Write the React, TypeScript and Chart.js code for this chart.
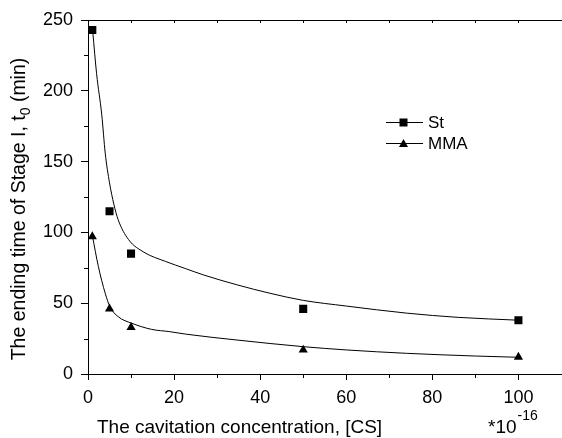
import React, { useEffect, useRef } from "react";
import { Chart, registerables } from "chart.js";

Chart.register(...registerables);

// Measured points
const stX = [1, 5, 10, 50, 100];
const stY = [243, 115, 85, 46, 38];
const mmaX = [1, 5, 10, 50, 100];
const mmaY = [97, 46, 33, 17, 12];

// Fitted curves
const stFitX = [1.1, 2, 3.2, 4, 5, 6, 7, 9.4, 13, 18, 22.6, 26.8, 34.6, 42.3, 50, 60, 74, 86, 100];
const stFitY = [242, 212, 183, 156, 135, 120, 109, 95, 86, 79.5, 74.5, 70, 63, 57, 52, 48, 43, 40, 38];
const mmaFitX = [1, 2.4, 4, 5.1, 7, 10.2, 14.8, 19, 22.6, 34.6, 50, 60, 74, 90, 100];
const mmaFitY = [98, 76, 57, 47.5, 40.5, 35.8, 31.5, 29.9, 28.2, 24, 19.3, 17, 14.6, 12.7, 11.8];

const seriesNames = ["St", "MMA"];
const xTitle = "The cavitation concentration, [CS]";
const yTitleMain = "The ending time of Stage I, t";
const yTitleSub = "0";
const yTitleEnd = " (min)";
const xMultiplier = "*10";
const xMultiplierExp = "-16";

const FONT = 'Arial, "Liberation Sans", sans-serif';

const pts = (xs: number[], ys: number[]) => xs.map((x, i) => ({ x, y: ys[i] }));

const decorPlugin = {
  id: "decor",
  afterDraw(chart: any) {
    const { ctx, chartArea } = chart;
    const xs = chart.scales.x;
    const ys = chart.scales.y;
    ctx.save();
    ctx.strokeStyle = "#000";
    ctx.fillStyle = "#000";
    ctx.lineWidth = 1;
    // top border
    ctx.beginPath();
    ctx.moveTo(chartArea.left, chartArea.top + 0.5);
    ctx.lineTo(562, chartArea.top + 0.5);
    ctx.moveTo(chartArea.right, chartArea.bottom + 0.5);
    ctx.lineTo(562, chartArea.bottom + 0.5);
    ctx.stroke();
    // minor ticks
    ctx.beginPath();
    for (let v = 25; v < 250; v += 50) {
      const p = Math.round(ys.getPixelForValue(v)) + 0.5;
      ctx.moveTo(chartArea.left - 4, p);
      ctx.lineTo(chartArea.left, p);
    }
    for (let v = 10; v <= 100; v += 20) {
      const p = Math.round(xs.getPixelForValue(v)) + 0.5;
      ctx.moveTo(p, chartArea.bottom);
      ctx.lineTo(p, chartArea.bottom + 4);
    }
    for (let v = 10; v <= 100; v += 10) {
      const p = Math.round(xs.getPixelForValue(v)) + 0.5;
      ctx.moveTo(p, chartArea.top);
      ctx.lineTo(p, chartArea.top + 3);
    }
    ctx.stroke();

    // x title
    ctx.font = `19px ${FONT}`;
    ctx.textAlign = "left";
    ctx.textBaseline = "alphabetic";
    ctx.fillText(xTitle, 97, 433);
    ctx.fillText(xMultiplier, 488, 433);
    const mw = ctx.measureText(xMultiplier).width;
    ctx.font = `14px ${FONT}`;
    ctx.fillText(xMultiplierExp, 488 + mw + 1, 420);

    // y title
    ctx.save();
    ctx.translate(25, (chartArea.top + chartArea.bottom) / 2 + 12);
    ctx.rotate(-Math.PI / 2);
    ctx.textBaseline = "alphabetic";
    ctx.font = `19.5px ${FONT}`;
    const w1 = ctx.measureText(yTitleMain).width;
    const w3 = ctx.measureText(yTitleEnd).width;
    ctx.font = `14px ${FONT}`;
    const w2 = ctx.measureText(yTitleSub).width;
    const total = w1 + w2 + w3;
    let x0 = -total / 2;
    ctx.textAlign = "left";
    ctx.font = `19.5px ${FONT}`;
    ctx.fillText(yTitleMain, x0, 0);
    x0 += w1;
    ctx.font = `14px ${FONT}`;
    ctx.fillText(yTitleSub, x0, 5);
    x0 += w2;
    ctx.font = `19.5px ${FONT}`;
    ctx.fillText(yTitleEnd, x0, 0);
    ctx.restore();

    // legend
    const rows = [
      { y: 122, style: "rect" },
      { y: 143, style: "triangle" },
    ];
    rows.forEach((row, i) => {
      ctx.beginPath();
      ctx.moveTo(386, row.y + 0.5);
      ctx.lineTo(423, row.y + 0.5);
      ctx.stroke();
      if (row.style === "rect") {
        ctx.fillRect(399.5, row.y - 3.5, 8, 8);
      } else {
        ctx.beginPath();
        ctx.moveTo(403.5, row.y - 4);
        ctx.lineTo(408, row.y + 4);
        ctx.lineTo(399, row.y + 4);
        ctx.closePath();
        ctx.fill();
      }
      ctx.font = `17px ${FONT}`;
      ctx.textBaseline = "middle";
      ctx.fillText(seriesNames[i], 428, row.y + 1);
    });
    ctx.restore();
  },
};

export default function App() {
  const ref = useRef<HTMLCanvasElement>(null);
  useEffect(() => {
    if (!ref.current) return;
    const chart = new Chart(ref.current, {
      type: "scatter",
      data: {
        datasets: [
          {
            label: seriesNames[0] + " fit",
            data: pts(stFitX, stFitY),
            showLine: true,
            borderColor: "#000",
            borderWidth: 1,
            pointRadius: 0,
            cubicInterpolationMode: "monotone",
          } as any,
          {
            label: seriesNames[1] + " fit",
            data: pts(mmaFitX, mmaFitY),
            showLine: true,
            borderColor: "#000",
            borderWidth: 1,
            pointRadius: 0,
            cubicInterpolationMode: "monotone",
          } as any,
          {
            label: seriesNames[0],
            data: pts(stX, stY),
            pointStyle: "rect",
            pointRadius: 5.7,
            backgroundColor: "#000",
            borderColor: "#000",
            borderWidth: 0,
          },
          {
            label: seriesNames[1],
            data: pts(mmaX, mmaY),
            pointStyle: "triangle",
            pointRadius: 5.3,
            backgroundColor: "#000",
            borderColor: "#000",
            borderWidth: 0,
          },
        ],
      },
      options: {
        responsive: false,
        animation: false,
        layout: { padding: { top: 20, right: 0, left: 0, bottom: 0 } },
        plugins: { legend: { display: false }, tooltip: { enabled: false } },
        scales: {
          x: {
            type: "linear",
            min: 0,
            max: 108.8,
            afterFit: (s: any) => {
              s.height = 64;
            },
            ticks: {
              stepSize: 20,
              includeBounds: false,
              color: "#000",
              font: { family: FONT, size: 18 },
              padding: 7,
              maxRotation: 0,
              callback: (v: any) => (v <= 100 ? String(v) : ""),
            },
            grid: {
              display: true,
              drawOnChartArea: false,
              drawTicks: true,
              tickLength: 6,
              color: "#000",
              lineWidth: 1,
            },
            border: { display: true, color: "#000", width: 1 },
          },
          y: {
            type: "linear",
            min: 0,
            max: 250,
            afterFit: (s: any) => {
              s.width = 88;
            },
            ticks: {
              stepSize: 50,
              color: "#000",
              font: { family: FONT, size: 18 },
              padding: 8,
            },
            grid: {
              display: true,
              drawOnChartArea: false,
              drawTicks: true,
              tickLength: 7,
              color: "#000",
              lineWidth: 1,
            },
            border: { display: true, color: "#000", width: 1 },
          },
        },
      } as any,
      plugins: [decorPlugin],
    });
    return () => chart.destroy();
  }, []);
  return (
    <div style={{ position: "absolute", left: 0, top: 0, width: 562, height: 438, background: "#fff" }}>
      <canvas ref={ref} width={562} height={438} />
    </div>
  );
}
